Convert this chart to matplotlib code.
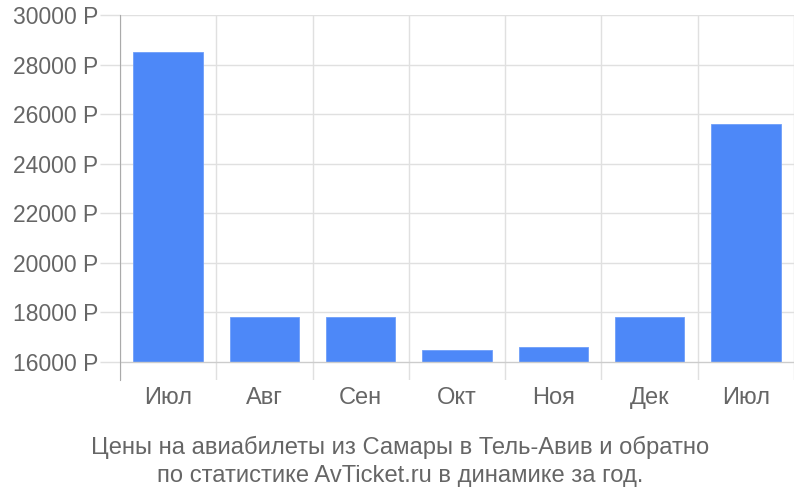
import matplotlib
matplotlib.use('Agg')
import matplotlib.pyplot as plt
import numpy as np

plt.rcParams['font.family'] = ['Liberation Sans', 'DejaVu Sans']

# data
months = ['Июл', 'Авг', 'Сен', 'Окт', 'Ноя', 'Дек', 'Июл']
prices = [28500, 17800, 17800, 16480, 16600, 17800, 25600]
yticks = [16000, 18000, 20000, 22000, 24000, 26000, 28000, 30000]
title = 'Цены на авиабилеты из Самары в Тель-Авив и обратно\nпо статистике AvTicket.ru в динамике за год.'

grid_color = '#e0e0e0'
text_color = '#666666'
bar_color = '#4d88f8'

fig = plt.figure(figsize=(8, 5), dpi=100)
ax = fig.add_axes([0.15, 0.24, 0.8425, 0.73])

ymin, ymax = 15274, 30000
index = np.arange(len(months))

# vertical grid lines between categories
for xb in np.arange(len(months) + 1) - 0.5:
    ax.axvline(xb, color=grid_color, linewidth=1, zorder=0)

# horizontal grid lines, the baseline a bit darker
for yt in yticks:
    c = '#cccccc' if yt == yticks[0] else grid_color
    ax.axhline(yt, color=c, linewidth=1, zorder=0 if yt != yticks[0] else 3)

ax.bar(index, np.array(prices) - yticks[0], 0.72, bottom=yticks[0],
       color=bar_color, edgecolor='#6f9ef9', linewidth=0.6, zorder=2)

ax.set_xlim(-0.5, len(months) - 0.5)
ax.set_ylim(ymin, ymax)

for s in ['top', 'right', 'bottom']:
    ax.spines[s].set_visible(False)
ax.spines['left'].set_color('#aaaaaa')
ax.spines['left'].set_zorder(4)

ax.set_yticks(yticks)
ax.set_yticklabels(['%d P' % v for v in yticks])
ax.set_xticks(index)
ax.set_xticklabels(months)
ax.tick_params(axis='y', length=14.4, width=1, color=grid_color, pad=1.5,
               labelsize=16.5, labelcolor=text_color)
ax.tick_params(axis='x', length=0, pad=5, labelsize=17, labelcolor=text_color)

fig.text(0.5, 0.077, title, ha='center', va='center', fontsize=17.1,
         color=text_color, linespacing=1.32)

plt.savefig('out.png', dpi=100)
